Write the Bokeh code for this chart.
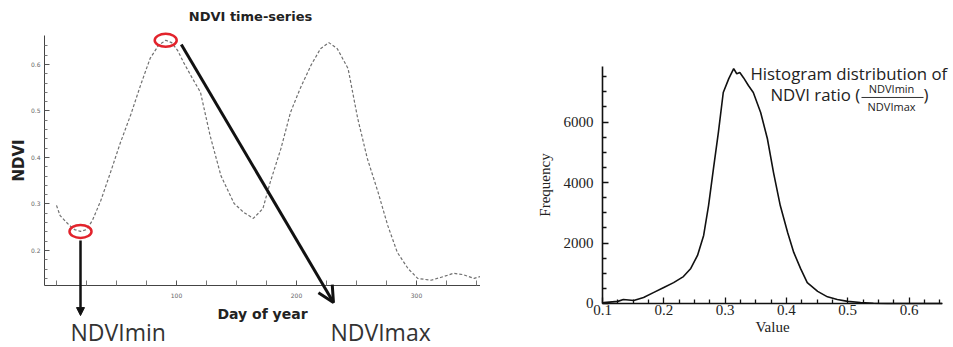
import numpy as np
from bokeh.plotting import figure
from bokeh.models import Range1d, FixedTicker, Label, Arrow, NormalHead, OpenHead
from bokeh.layouts import row
from bokeh.embed import file_html
from bokeh.resources import INLINE

# ---- Left panel: NDVI time-series ----
ndvi_day = [0, 3, 10, 15, 20, 25, 30, 37, 45, 53, 62, 70, 78, 85, 91, 96, 101, 106, 112, 120,
            128, 137, 148, 156, 164, 172, 178, 187, 195, 203, 212, 220, 227, 234, 243, 251,
            259, 268, 276, 284, 293, 301, 312, 320, 331, 339, 348, 353]
ndvi_value = [0.297, 0.275, 0.256, 0.245, 0.241, 0.245, 0.265, 0.308, 0.368, 0.430,
              0.493, 0.555, 0.613, 0.641, 0.652, 0.647, 0.630, 0.604, 0.576, 0.540,
              0.447, 0.361, 0.301, 0.282, 0.269, 0.290, 0.346, 0.419, 0.497, 0.548,
              0.598, 0.634, 0.647, 0.634, 0.591, 0.484, 0.398, 0.325, 0.254, 0.196,
              0.161, 0.140, 0.136, 0.142, 0.151, 0.148, 0.140, 0.144]
day_ticks = [100, 200, 300]
day_minor_ticks = [0, 25, 50, 75, 125, 150, 175, 225, 250, 275, 325, 350]
ndvi_ticks = [0.2, 0.3, 0.4, 0.5, 0.6]
ndvi_minor_ticks = [0.14, 0.16, 0.18, 0.22, 0.24, 0.26, 0.28, 0.32, 0.34, 0.36, 0.38,
                    0.42, 0.44, 0.46, 0.48, 0.52, 0.54, 0.56, 0.58, 0.62, 0.64]

# ---- Right panel: histogram of NDVI ratio ----
hist_value = [0.100, 0.102, 0.125, 0.134, 0.151, 0.167, 0.183, 0.200, 0.216, 0.232,
              0.244, 0.255, 0.265, 0.273, 0.281, 0.289, 0.297, 0.306, 0.314, 0.319,
              0.324, 0.330, 0.338, 0.346, 0.358, 0.369, 0.379, 0.390, 0.402, 0.412,
              0.423, 0.434, 0.451, 0.467, 0.483, 0.500, 0.521, 0.542, 0.565, 0.654]
hist_freq = [0, 30, 70, 130, 100, 200, 360, 530, 690, 890,
             1160, 1590, 2250, 3240, 4460, 5650, 6980, 7440, 7770, 7600,
             7640, 7470, 7210, 6980, 6320, 5450, 4330, 3240, 2350, 1690,
             1160, 690, 400, 220, 130, 70, 35, 10, 0, 0]
value_ticks = [0.1, 0.2, 0.3, 0.4, 0.5, 0.6]
value_minor_ticks = [0.125, 0.15, 0.175, 0.225, 0.25, 0.275, 0.325, 0.35, 0.375,
                     0.425, 0.45, 0.475, 0.525, 0.55, 0.575, 0.625, 0.65]
freq_ticks = [0, 2000, 4000, 6000]
freq_minor_ticks = [500, 1000, 1500, 2500, 3000, 3500, 4500, 5000, 5500, 6500, 7000, 7500]

# ================= Left figure =================
# frame fills the whole figure; axes are pinned with fixed_location + bounds
X0, X1 = -10, 353.3      # axis extent (days)
Y0, Y1 = 0.125, 0.6626   # axis extent (NDVI)
p1 = figure(width=480, height=347, x_range=Range1d(-46.67, 353.33), y_range=Range1d(-0.0086, 0.7376),
            output_backend="svg", toolbar_location=None, min_border=0)
p1.grid.visible = False
p1.outline_line_color = None

p1.xaxis.ticker = FixedTicker(ticks=day_ticks, minor_ticks=day_minor_ticks)
p1.yaxis.ticker = FixedTicker(ticks=ndvi_ticks, minor_ticks=ndvi_minor_ticks)
p1.xaxis.fixed_location = Y0
p1.yaxis.fixed_location = X0
p1.xaxis.bounds = (X0, X1)
p1.yaxis.bounds = (Y0, Y1)
for ax in (p1.xaxis, p1.yaxis):
    ax.axis_line_color = "#444444"
    ax.axis_line_width = 1
    ax.major_tick_line_color = "#555555"
    ax.minor_tick_line_color = "#777777"
    ax.major_tick_in = 5
    ax.major_tick_out = 0
    ax.minor_tick_in = 3
    ax.minor_tick_out = 0
    ax.major_label_text_font = "DejaVu Sans"
    ax.major_label_text_font_size = "6px"
    ax.major_label_text_color = "#666666"
    ax.axis_label_text_font = "DejaVu Sans"
    ax.axis_label_text_font_style = "bold"
    ax.axis_label_text_color = "#222222"
p1.xaxis.minor_tick_in = 5
p1.xaxis.major_label_standoff = 8
p1.xaxis.axis_label = "Day of year"
p1.xaxis.axis_label_text_font_size = "14px"
p1.xaxis.axis_label_standoff = 4
p1.yaxis.major_label_standoff = 4
p1.yaxis.axis_label = "NDVI"
p1.yaxis.axis_label_text_font_size = "15px"
p1.yaxis.axis_label_standoff = 0

p1.line(ndvi_day, ndvi_value, line_color="#707070", line_width=1.2, line_dash="3 2")

vals = np.array(ndvi_value)
days = np.array(ndvi_day)
first = days < 60
i_min = int(np.argmin(np.where(first, vals, 9)))
i_max = int(np.argmax(vals))
p1.ellipse(x=[days[i_min], days[i_max]], y=[vals[i_min], vals[i_max]],
           width=22, height=13, width_units="screen", height_units="screen",
           fill_color=None, line_color="#e2232c", line_width=2.5)

p1.add_layout(Arrow(x_start=days[i_min], y_start=0.2215, x_end=days[i_min], y_end=0.060,
                    line_color="#111111", line_width=2.5,
                    end=NormalHead(size=8, fill_color="#111111", line_color="#111111")))
p1.add_layout(Arrow(x_start=104, y_start=0.643, x_end=230.8, y_end=0.0882,
                    line_color="#111111", line_width=3,
                    end=OpenHead(size=16, line_color="#111111", line_width=3)))

p1.add_layout(Label(x=161.7, y=0.703, text="NDVI time-series", text_align="center",
                    text_baseline="middle", text_font="DejaVu Sans", text_font_style="bold",
                    text_font_size="13px", text_color="#222222"))
p1.add_layout(Label(x=11.7, y=0.0237, text="NDVImin", text_align="left",
                    text_baseline="middle", text_font="Open Sans",
                    text_font_size="23px", text_color="#333333"))
p1.add_layout(Label(x=228.3, y=0.0237, text="NDVImax", text_align="left",
                    text_baseline="middle", text_font="Open Sans",
                    text_font_size="23px", text_color="#333333"))

# ================= Right figure =================
V0, V1 = 0.1, 0.6547
F0, F1 = 0, 7840
p2 = figure(width=473, height=347, x_range=Range1d(-0.09902, 0.67259), y_range=Range1d(-1456, 10023),
            output_backend="svg", toolbar_location=None, min_border=0)
p2.grid.visible = False
p2.outline_line_color = None
p2.xaxis.ticker = FixedTicker(ticks=value_ticks, minor_ticks=value_minor_ticks)
p2.yaxis.ticker = FixedTicker(ticks=freq_ticks, minor_ticks=freq_minor_ticks)
p2.xaxis.fixed_location = F0
p2.yaxis.fixed_location = V0
p2.xaxis.bounds = (V0, V1)
p2.yaxis.bounds = (F0, F1)
for ax in (p2.xaxis, p2.yaxis):
    ax.axis_line_color = "#111111"
    ax.axis_line_width = 1.6
    ax.major_tick_line_color = "#111111"
    ax.minor_tick_line_color = "#111111"
    ax.major_tick_line_width = 1.3
    ax.minor_tick_line_width = 1.3
    ax.major_tick_in = 6
    ax.major_tick_out = 0
    ax.minor_tick_in = 4
    ax.minor_tick_out = 0
    ax.major_label_text_font = "Liberation Serif"
    ax.major_label_text_font_size = "15px"
    ax.major_label_text_color = "#222222"
    ax.axis_label_text_font = "Liberation Serif"
    ax.axis_label_text_font_style = "normal"
    ax.axis_label_text_font_size = "15px"
    ax.axis_label_text_color = "#222222"
p2.xaxis.major_label_standoff = 2
p2.xaxis.axis_label = "Value"
p2.xaxis.axis_label_standoff = 0
p2.yaxis.major_label_standoff = 9
p2.yaxis.axis_label = "Frequency"
p2.yaxis.axis_label_standoff = 8

p2.line(hist_value, hist_freq, line_color="#111111", line_width=1.6)

p2.add_layout(Label(x=0.3414, y=7608, text="Histogram distribution of", text_align="left",
                    text_baseline="middle", text_font="Open Sans", text_font_size="16.8px",
                    text_color="#222222"))
p2.add_layout(Label(x=0.374, y=6914, text="NDVI ratio (", text_align="left",
                    text_baseline="middle", text_font="Open Sans", text_font_size="16.8px",
                    text_color="#222222"))
p2.add_layout(Label(x=0.5715, y=7112, text="NDVImin", text_align="center",
                    text_baseline="middle", text_font="Open Sans", text_font_size="11px",
                    text_color="#222222"))
p2.add_layout(Arrow(x_start=0.5225, y_start=6815, x_end=0.6237, y_end=6815, end=None,
                    line_color="#333333", line_width=1))
p2.add_layout(Label(x=0.5715, y=6517, text="NDVImax", text_align="center",
                    text_baseline="middle", text_font="Open Sans", text_font_size="11px",
                    text_color="#222222"))
p2.add_layout(Label(x=0.6237, y=6914, text=")", text_align="left",
                    text_baseline="middle", text_font="Open Sans", text_font_size="16.8px",
                    text_color="#222222"))

layout = row(p1, p2)
open("out.html", "w").write(file_html(layout, INLINE))
